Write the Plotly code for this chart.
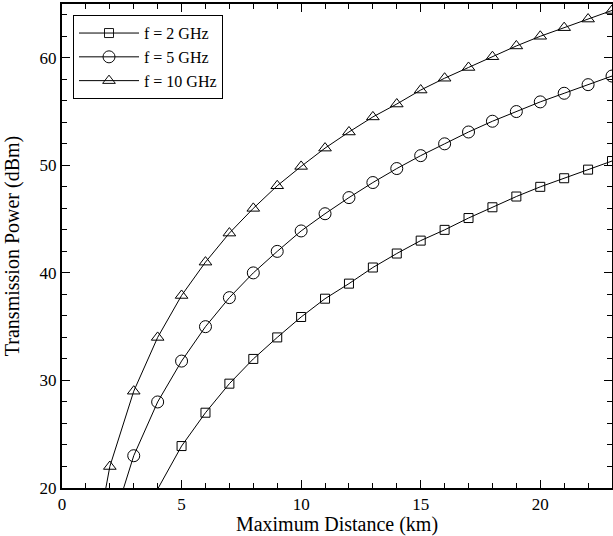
import plotly.graph_objects as go

distance_km = list(range(1, 24))

p_2ghz = [None, 15.0, 19.9, 23.9, 27.0, 29.7, 32.0, 34.0, 35.9, 37.6, 39.0, 40.5,
          41.8, 43.0, 44.0, 45.1, 46.1, 47.1, 48.0, 48.8, 49.6, 50.4]
p_5ghz = [15.9, 23.0, 28.0, 31.8, 35.0, 37.7, 40.0, 42.0, 43.9, 45.5, 47.0, 48.4,
          49.7, 50.9, 52.0, 53.1, 54.1, 55.0, 55.9, 56.7, 57.5, 58.3]
p_10ghz = [10.0, 22.0, 29.0, 34.0, 37.9, 41.0, 43.7, 46.0, 48.1, 49.9, 51.6, 53.1,
           54.5, 55.7, 57.0, 58.1, 59.1, 60.1, 61.1, 62.0, 62.8, 63.6, 64.4]

x_2 = distance_km[1:]
x_5 = distance_km[1:]
x_10 = distance_km

series = [
    ("f = 2 GHz", x_2, p_2ghz, "square-open", 9),
    ("f = 5 GHz", x_5, p_5ghz, "circle-open", 12),
    ("f = 10 GHz", x_10, p_10ghz, "triangle-up-open", 11),
]

Y_MIN, Y_MAX = 20, 65
FONT = "Liberation Serif"

fig = go.Figure()
for name, xs, ys, sym, size in series:
    xx = [x for x, y in zip(xs, ys) if y is not None]
    yy = [y for y in ys if y is not None]
    opac = [1 if y >= Y_MIN else 0 for y in yy]
    fig.add_trace(go.Scatter(
        x=xx, y=yy, name=name, mode="lines+markers",
        line=dict(color="black", width=1),
        marker=dict(symbol=sym, size=size, color="black", opacity=opac,
                    line=dict(width=1, color="black")),
        cliponaxis=True,
    ))

axis_common = dict(
    showline=True, linecolor="black", linewidth=2, mirror="allticks",
    ticks="inside", ticklen=8, tickwidth=1, tickcolor="black",
    showgrid=False, zeroline=False, automargin=False,
    tickfont=dict(family=FONT, size=17, color="black"),
)

fig.update_xaxes(range=[0, 23], tick0=0, dtick=5,
                 minor=dict(ticks="inside", ticklen=5, dtick=1, tickcolor="black"),
                 title=dict(text="Maximum Distance (km)", font=dict(family=FONT, size=20, color="black")),
                 **axis_common)
fig.update_yaxes(range=[Y_MIN, Y_MAX], tick0=0, dtick=10,
                 minor=dict(ticks="inside", ticklen=5, dtick=2, tickcolor="black"),
                 title=dict(text="Transmission Power (dBm)", font=dict(family=FONT, size=20, color="black")),
                 **axis_common)

fig.update_layout(
    width=613, height=536,
    margin=dict(l=62, r=1, t=4, b=48, autoexpand=False),
    plot_bgcolor="white", paper_bgcolor="white",
    font=dict(family=FONT, size=16, color="black"),
    legend=dict(x=0.02, y=0.977, xanchor="left", yanchor="top",
                bgcolor="white", bordercolor="black", borderwidth=1,
                font=dict(family=FONT, size=16, color="black"),
                tracegroupgap=0, itemwidth=60),
    showlegend=True,
)

fig.write_html("out.html", config={"displayModeBar": False},
               post_script="document.body.style.margin='0';document.body.style.padding='0';")
